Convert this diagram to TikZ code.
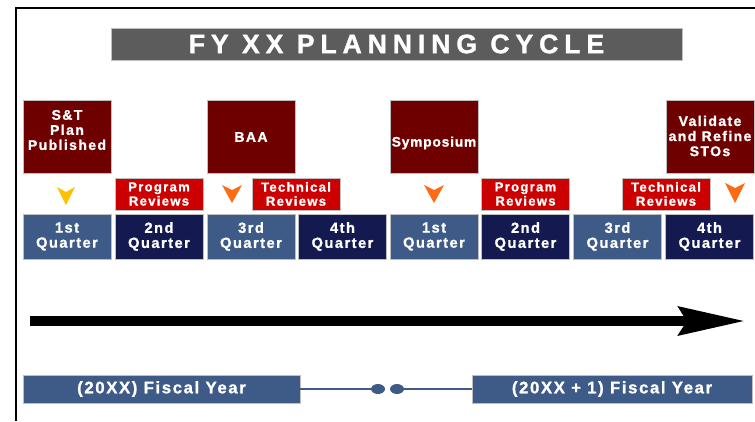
\documentclass[tikz,border=0pt]{standalone}
\usepackage{fontspec}
\setmainfont{Liberation Sans}
\newfontfamily\boxfont[LetterSpace=10, BoldFeatures={FakeBold=1.2}]{Liberation Sans}
\newfontfamily\narrowboxfont[LetterSpace=6, BoldFeatures={FakeBold=1.2}]{Liberation Sans}
\newfontfamily\titlefont[LetterSpace=22, BoldFeatures={FakeBold=1.2}]{Liberation Sans}
\usetikzlibrary{arrows.meta,shapes.geometric}
\definecolor{darkred}{HTML}{6E0000}
\definecolor{brightred}{HTML}{CC0000}
\definecolor{lightq}{HTML}{3E5B87}
\definecolor{darkq}{HTML}{141A4F}
\definecolor{titlegray}{HTML}{5C5C5C}
\definecolor{yellowtip}{HTML}{FFC000}
\definecolor{orangetip}{HTML}{FF6A13}
\tikzset{
  box/.style={rectangle, inner sep=0pt, text=white, align=center, draw=white!75!black, line width=0.4pt},
  eventbox/.style={box, fill=darkred, minimum width=66pt, minimum height=54.75pt},
  eventtext/.style={inner sep=0pt, text=white, align=center,
     font=\boxfont\bfseries\fontsize{10.5}{11.3}\selectfont},
  reviewbox/.style={box, fill=brightred, minimum width=66pt, minimum height=24pt,
     font=\boxfont\bfseries\fontsize{9.8}{10.6}\selectfont},
  qlight/.style={box, fill=lightq, minimum width=66pt, minimum height=33.75pt,
     font=\boxfont\bfseries\fontsize{11}{11.3}\selectfont},
  qdark/.style={qlight, fill=darkq},
  fiscal/.style={box, fill=lightq, minimum height=21pt,
     font=\boxfont\bfseries\fontsize{12.5}{13}\selectfont},
  linkline/.style={draw=lightq, line width=1.5pt},
  dot/.style={ellipse, fill=lightq, minimum width=10.5pt, minimum height=7.5pt, inner sep=0pt}
}
\begin{document}
\begin{tikzpicture}[x=0.75pt, y=-0.75pt]
\path[use as bounding box] (0,0) rectangle (755,421);
% frame
\coordinate (fbl) at (16,421);
\coordinate (ftl) at (16,8);
\coordinate (ftr) at (755,8);
\draw[line width=1.2pt] (fbl) -- (ftl) -- (ftr);
% title
\node[box, fill=titlegray, minimum width=428.25pt, minimum height=24pt,
  font=\titlefont\bfseries\fontsize{20}{22}\selectfont] (title) at (396.5,44) {FY XX PLANNING CYCLE};
% event boxes
\node[eventbox] (st) at (67,136.5) {};
\node[eventtext] (stt) at (67,130) {S\&T\\Plan\\Published};
\node[eventbox] (baa) at (251,136.5) {};
\node[eventtext] (baat) at (251,137) {BAA};
\node[eventbox] (sym) at (434,136.5) {};
\node[eventtext, font=\narrowboxfont\bfseries\fontsize{10.3}{11.3}\selectfont] (symt) at (434,143) {Symposium};
\node[eventbox] (val) at (710,136.5) {};
\node[eventtext] (valt) at (710,136) {Validate\\and Refine\\STOs};
% review boxes
\node[reviewbox] (pr1) at (159,194) {Program\\Reviews};
\node[reviewbox] (tr1) at (296,194) {Technical\\Reviews};
\node[reviewbox] (pr2) at (525.5,194) {Program\\Reviews};
\node[reviewbox] (tr2) at (666,194) {Technical\\Reviews};
% quarters
\node[qlight] (q1) at (67,236.5) {1st\\Quarter};
\node[qdark] (q2) at (159,236.5) {2nd\\Quarter};
\node[qlight] (q3) at (251,236.5) {3rd\\Quarter};
\node[qdark] (q4) at (342.5,236.5) {4th\\Quarter};
\node[qlight] (q5) at (434,236.5) {1st\\Quarter};
\node[qdark] (q6) at (525.5,236.5) {2nd\\Quarter};
\node[qlight] (q7) at (617.5,236.5) {3rd\\Quarter};
\node[qdark] (q8) at (709.5,236.5) {4th\\Quarter};
% chevrons
\fill[yellowtip] (57,187) -- (66,192) -- (75,187) -- (66,205) -- cycle;
\fill[orangetip] (222,185) -- (232,190) -- (242,185) -- (232,203) -- cycle;
\fill[orangetip] (424,185) -- (434,190) -- (444,185) -- (434,203) -- cycle;
\fill[orangetip] (725,183) -- (735,188) -- (745,183) -- (735,203) -- cycle;
% big timeline arrow
\coordinate (ta) at (30,321);
\coordinate (tb) at (745,321);
\draw[line width=7.5pt, -{Stealth[length=49.5pt, width=21pt, inset=6pt]}] (ta) -- (tb);
% fiscal years
\node[fiscal, minimum width=207.75pt] (fy1) at (161.5,389) {(20XX) Fiscal Year};
\node[fiscal, minimum width=210pt] (fy2) at (612,389) {(20XX + 1) Fiscal Year};
\node[dot] (d1) at (378,389) {};
\node[dot] (d2) at (397,389) {};
\draw[linkline] (fy1.east) -- (d1.west);
\draw[linkline] (d2.east) -- (fy2.west);
\end{tikzpicture}
\end{document}
